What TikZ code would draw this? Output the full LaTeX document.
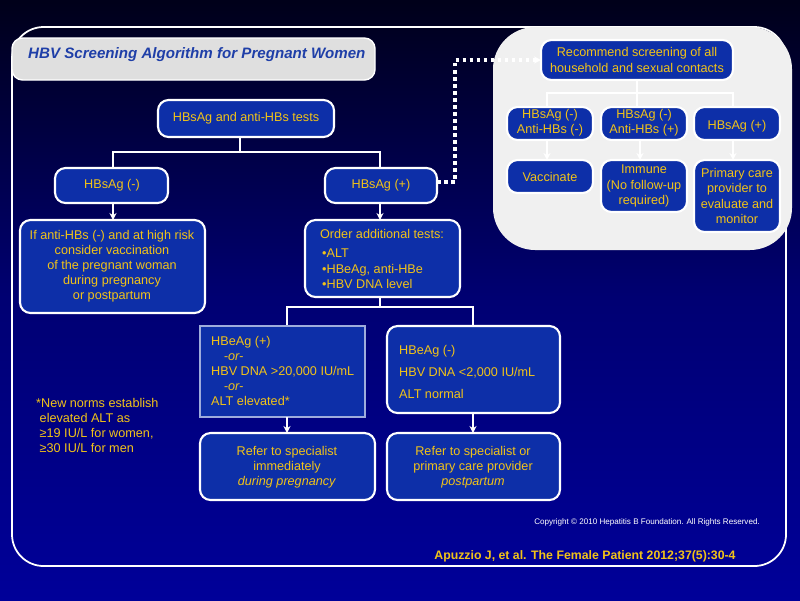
\documentclass[tikz,border=0pt]{standalone}
\usepackage{fontspec}
\setmainfont{Liberation Sans}
\usetikzlibrary{arrows.meta}
\definecolor{navy}{HTML}{0D2FA8}
\definecolor{ylw}{HTML}{F2C318}
\definecolor{ttl}{HTML}{1F3FA8}
\tikzset{
  box/.style={draw=white, line width=1.2pt, fill=navy, rounded corners=6pt},
  txt/.style={text=ylw, font=\fontsize{7.2}{8.6}\selectfont, align=center},
  conn/.style={white, line width=1.6pt},
  arr/.style={conn, -{Stealth[length=4pt,width=4pt]}},
}
\begin{document}
\begin{tikzpicture}[x=0.02cm,y=-0.02cm]
\shade[top color=black!90!blue, bottom color=blue!60!black, middle color=blue!45!black] (0,0) rectangle (800,600);
\useasboundingbox (0,0) rectangle (800,600);
\draw[white, line width=1pt, rounded corners=18pt] (12,27) rectangle (786,566);
\fill[gray!12, rounded corners=24pt] (493,27) rectangle (792,250);
\draw[white, line width=0.8pt, fill=gray!25, rounded corners=6pt] (12,38) rectangle (375,80);
\node[text=ttl, font=\fontsize{8.6}{10}\bfseries\itshape, anchor=west] (title) at (22,55) {HBV Screening Algorithm for Pregnant Women};
% right panel
\path[box] (541,40) rectangle (733,80);
\node[txt] (rec) at (637,60) {Recommend screening of all\\household and sexual contacts};
\draw[conn] (637,80) -- (637,93) coordinate (j0);
\draw[conn] (547,107) |- (j0) -| (733,107);
\draw[conn] (637,93) -- (637,107);
\path[box] (507,107) rectangle (593,140); \node[txt] (s1) at (550,123) {HBsAg (-)\\Anti-HBs (-)};
\path[box] (601,107) rectangle (687,140); \node[txt] (s2) at (644,123) {HBsAg (-)\\Anti-HBs (+)};
\path[box] (694,107) rectangle (780,140); \node[txt] (s3) at (737,126) {HBsAg (+)};
\path[box] (507,160) rectangle (593,193); \node[txt] (v1) at (550,177) {Vaccinate};
\path[box] (601,160) rectangle (687,212); \node[txt] (v2) at (644,186) {Immune\\(No follow-up\\required)};
\path[box] (694,160) rectangle (780,232); \node[txt] (v3) at (737,196) {Primary care\\provider to\\evaluate and\\monitor};
\draw[arr] (547,140) -- (547,160);
\draw[arr] (640,140) -- (640,160);
\draw[arr] (733,140) -- (733,160);
% main tree
\path[box] (158,100) rectangle (334,137); \node[txt] (top) at (246,118) {HBsAg and anti-HBs tests};
\draw[conn] (240,137) -- (240,152);
\draw[conn] (113,168) |- (240,152) -| (380,168);
\path[box] (55,168) rectangle (168,203); \node[txt] (neg) at (112,185) {HBsAg (-)};
\path[box] (325,168) rectangle (437,203); \node[txt] (pos) at (381,185) {HBsAg (+)};
\coordinate (recw) at (541,60);
\draw[white, line width=2pt, dotted, -{Stealth[length=4pt,width=4pt]}] (437,182) -- (455,182) -- (455,60) -- (recw);
\draw[arr] (113,203) -- (113,220);
\draw[arr] (380,203) -- (380,220);
\path[box] (20,220) rectangle (205,313); \node[txt] (risk) at (112,266) {If anti-HBs (-) and at high risk\\consider vaccination\\of the pregnant woman\\during pregnancy\\or postpartum};
\path[box] (305,220) rectangle (460,297);
\node[txt] (ord) at (382,234) {Order additional tests:};
\node[txt,align=left,anchor=north west] (ordl) at (316,243) {•ALT\\•HBeAg, anti-HBe\\•HBV DNA level};
\draw[conn] (380,297) -- (380,307);
\draw[conn] (287,326) |- (380,307) -| (473,326);
\path[draw=white!60!navy, line width=0.6pt, fill=navy] (200,326) rectangle (365,417);
\node[txt,align=left,anchor=north west] (hp) at (205,330) {HBeAg (+)\\ \quad\textit{-or-}\\ HBV DNA >20,000 IU/mL\\ \quad\textit{-or-}\\ ALT elevated*};
\path[box] (387,326) rectangle (560,413);
\node[txt,align=left,anchor=north west] (hn) at (393,339) {HBeAg (-)\\[4pt] HBV DNA <2,000 IU/mL\\[4pt] ALT normal};
\draw[arr] (287,417) -- (287,433);
\draw[arr] (473,413) -- (473,433);
\path[box] (200,433) rectangle (375,500); \node[txt] (r1) at (287,467) {Refer to specialist\\immediately\\\textit{during pregnancy}};
\path[box] (387,433) rectangle (560,500); \node[txt] (r2) at (473,467) {Refer to specialist or\\primary care provider\\\textit{postpartum}};
\node[txt,align=left,anchor=north west] (fn) at (30,392) {*New norms establish\\\ elevated ALT as\\\ ≥19 IU/L for women,\\\ ≥30 IU/L for men};
\node[text=white,font=\fontsize{4.6}{6}\selectfont,anchor=east] (copy) at (766,522) {Copyright © 2010 Hepatitis B Foundation. All Rights Reserved.};
\node[text=ylw,font=\fontsize{7}{9}\bfseries,anchor=center] (cite) at (585,556) {Apuzzio J, et al. The Female Patient 2012;37(5):30-4};
\end{tikzpicture}
\end{document}
